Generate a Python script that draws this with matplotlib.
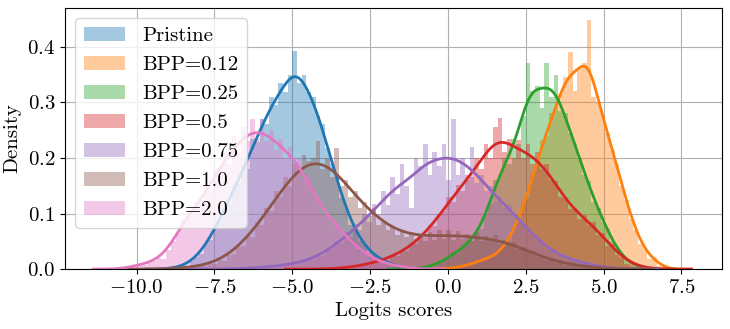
import numpy as np
import matplotlib
matplotlib.use("Agg")
import matplotlib.pyplot as plt
from matplotlib.patches import Patch
import seaborn as sns

# histogram bin heights (density), bin width 0.15
width = 0.15

names = ["Pristine", "BPP=0.12", "BPP=0.25", "BPP=0.5", "BPP=0.75", "BPP=1.0", "BPP=2.0"]
starts = [-8.9, -0.2, -1.1, -4.1, -7.1, -8.9, -10.4]

pristine = [
    0.004, 0.000, 0.009, 0.006, 0.015, 0.022, 0.028, 0.047, 0.052, 0.080,
    0.084, 0.110, 0.118, 0.150, 0.155, 0.190, 0.180, 0.235, 0.228, 0.270,
    0.262, 0.310, 0.295, 0.335, 0.318, 0.350, 0.392, 0.335, 0.350, 0.318,
    0.310, 0.275, 0.262, 0.218, 0.190, 0.165, 0.128, 0.112, 0.080, 0.070,
    0.050, 0.045, 0.026, 0.028, 0.016, 0.018, 0.008, 0.010, 0.004, 0.003,
]
bpp_012 = [
    0.000, 0.003, 0.000, 0.004, 0.006, 0.004, 0.011, 0.013, 0.018, 0.016,
    0.024, 0.020, 0.032, 0.040, 0.050, 0.075, 0.085, 0.118, 0.130, 0.170,
    0.190, 0.232, 0.240, 0.280, 0.290, 0.315, 0.345, 0.390, 0.320, 0.360,
    0.370, 0.448, 0.310, 0.300, 0.275, 0.245, 0.215, 0.190, 0.150, 0.125,
    0.090, 0.070, 0.045, 0.035, 0.018, 0.022, 0.006, 0.003,
]
bpp_025 = [
    0.002, 0.000, 0.004, 0.006, 0.004, 0.012, 0.016, 0.020, 0.030, 0.028,
    0.040, 0.045, 0.050, 0.065, 0.072, 0.100, 0.118, 0.160, 0.170, 0.200,
    0.190, 0.235, 0.225, 0.275, 0.370, 0.320, 0.330, 0.290, 0.370, 0.310,
    0.350, 0.285, 0.280, 0.245, 0.225, 0.200, 0.170, 0.158, 0.120, 0.110,
    0.085, 0.072, 0.050, 0.035, 0.020, 0.018, 0.006, 0.010, 0.002, 0.000,
]
bpp_05 = [
    0.000, 0.002, 0.000, 0.002, 0.000, 0.004, 0.003, 0.006, 0.004, 0.010,
    0.008, 0.013, 0.012, 0.020, 0.016, 0.026, 0.024, 0.034, 0.032, 0.046,
    0.045, 0.062, 0.058, 0.080, 0.078, 0.100, 0.105, 0.130, 0.120, 0.152,
    0.140, 0.170, 0.165, 0.200, 0.180, 0.225, 0.200, 0.255, 0.272, 0.210,
    0.235, 0.200, 0.232, 0.200, 0.225, 0.190, 0.210, 0.180, 0.190, 0.160,
    0.158, 0.130, 0.128, 0.108, 0.110, 0.090, 0.098, 0.080, 0.085, 0.062,
    0.065, 0.042, 0.045, 0.025, 0.024, 0.010, 0.012, 0.004, 0.006, 0.001,
    0.002, 0.000,
]
bpp_075 = [
    0.000, 0.002, 0.000, 0.002, 0.000, 0.003, 0.002, 0.004, 0.003, 0.006,
    0.004, 0.008, 0.006, 0.010, 0.008, 0.013, 0.012, 0.018, 0.016, 0.026,
    0.024, 0.036, 0.034, 0.050, 0.046, 0.066, 0.058, 0.082, 0.070, 0.100,
    0.085, 0.118, 0.100, 0.140, 0.115, 0.165, 0.135, 0.190, 0.150, 0.110,
    0.200, 0.185, 0.225, 0.170, 0.210, 0.185, 0.225, 0.160, 0.270, 0.170,
    0.200, 0.160, 0.220, 0.155, 0.170, 0.140, 0.150, 0.120, 0.130, 0.110,
    0.115, 0.098, 0.090, 0.080, 0.070, 0.062, 0.050, 0.048, 0.036, 0.032,
    0.026, 0.024, 0.018, 0.020, 0.014, 0.015, 0.010, 0.009, 0.005, 0.006,
    0.003, 0.004, 0.001, 0.001,
]
bpp_10 = [
    0.002, 0.000, 0.003, 0.002, 0.004, 0.003, 0.006, 0.005, 0.009, 0.010,
    0.016, 0.015, 0.026, 0.028, 0.040, 0.042, 0.060, 0.058, 0.085, 0.080,
    0.110, 0.105, 0.140, 0.130, 0.165, 0.150, 0.190, 0.180, 0.205, 0.195,
    0.200, 0.230, 0.180, 0.200, 0.165, 0.218, 0.150, 0.160, 0.130, 0.140,
    0.110, 0.120, 0.095, 0.110, 0.080, 0.085, 0.070, 0.075, 0.062, 0.070,
    0.058, 0.066, 0.054, 0.064, 0.050, 0.066, 0.052, 0.070, 0.055, 0.070,
    0.052, 0.068, 0.055, 0.064, 0.050, 0.066, 0.050, 0.060, 0.050, 0.062,
    0.046, 0.052, 0.045, 0.048, 0.036, 0.040, 0.030, 0.032, 0.022, 0.024,
    0.016, 0.017, 0.011, 0.013, 0.008, 0.009, 0.006, 0.007, 0.004, 0.005,
    0.002, 0.003, 0.001, 0.002,
]
bpp_20 = [
    0.002, 0.006, 0.004, 0.010, 0.008, 0.013, 0.014, 0.020, 0.018, 0.034,
    0.050, 0.065, 0.090, 0.095, 0.100, 0.120, 0.115, 0.150, 0.140, 0.180,
    0.170, 0.210, 0.190, 0.240, 0.210, 0.255, 0.230, 0.270, 0.235, 0.270,
    0.230, 0.250, 0.215, 0.235, 0.200, 0.220, 0.190, 0.200, 0.160, 0.165,
    0.130, 0.128, 0.100, 0.100, 0.080, 0.085, 0.065, 0.062, 0.045, 0.045,
    0.030, 0.032, 0.020, 0.020, 0.012, 0.013, 0.008, 0.008, 0.004, 0.005,
    0.002, 0.002,
]

series = [pristine, bpp_012, bpp_025, bpp_05, bpp_075, bpp_10, bpp_20]
colors = sns.color_palette("tab10", 7)

plt.rcParams["font.family"] = "serif"
plt.rcParams["font.serif"] = ["cmr10"]
plt.rcParams["mathtext.fontset"] = "cm"
plt.rcParams["axes.formatter.use_mathtext"] = True
plt.rcParams["font.size"] = 15

fig, ax = plt.subplots(figsize=(7.3, 3.29), dpi=100)

for name, start, vals, c in zip(names, starts, series, colors):
    vals = np.array(vals)
    stop = start + width * len(vals)
    centers = start + width * (np.arange(len(vals)) + 0.5)
    sns.histplot(x=centers, weights=vals, binwidth=width, binrange=(start, stop),
                 stat="count", kde=True, color=c, alpha=0.4, linewidth=0, ax=ax,
                 kde_kws=dict(bw_adjust=0.45, cut=2),
                 line_kws=dict(linewidth=2))

ax.set_xlim(-12.3, 8.8)
ax.set_ylim(0, 0.47)
ax.set_xticks([-10, -7.5, -5, -2.5, 0, 2.5, 5, 7.5])
ax.set_yticks([0, 0.1, 0.2, 0.3, 0.4])
ax.grid(True)
ax.set_axisbelow(True)
ax.set_xlabel("Logits scores")
ax.set_ylabel("Density")

handles = [Patch(facecolor=c, alpha=0.4, linewidth=0) for c in colors]
ax.legend(handles, names, loc="upper left")

fig.subplots_adjust(left=0.089, right=0.989, top=0.976, bottom=0.182)
fig.savefig("out.png", dpi=100)
